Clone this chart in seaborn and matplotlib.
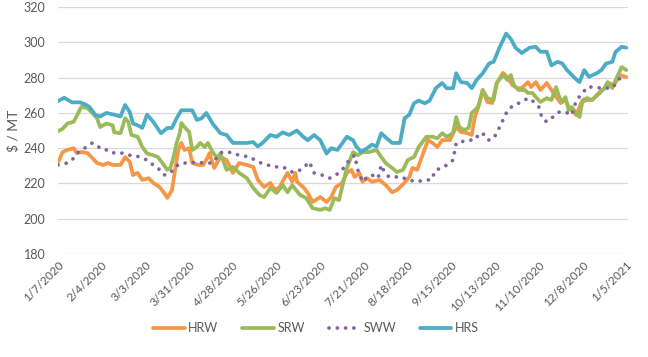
import matplotlib
matplotlib.use("Agg")
import matplotlib.pyplot as plt
import seaborn as sns
import pandas as pd
from matplotlib.lines import Line2D

start_date = "2020-01-07"
series_names = ["HRW", "SRW", "SWW", "HRS"]

# day offsets from start_date and values ($/MT)
hrw_day = [0, 3, 6, 10, 12, 15, 19, 22, 25, 29, 32, 35, 40, 43, 46, 48, 51, 54, 58, 61, 65, 68, 70, 73, 75, 77, 79, 81, 84, 86, 90,
           93, 96, 97, 100, 104, 108, 112, 116, 121, 125, 128, 132, 136, 139, 142, 145, 147, 150, 152, 153, 157, 160, 163, 168, 172,
           175, 178, 182, 185, 188, 190, 193, 195, 198, 201, 206, 210, 214, 217, 221, 225, 227, 230, 233, 237, 240, 243, 246, 251,
           255, 258, 262, 265, 267, 270, 272, 275, 278, 281, 285, 288, 291, 294, 297, 301, 303, 306, 309, 313, 316, 319, 322, 325,
           327, 329, 332, 335, 338, 342, 347, 350, 353, 356, 360, 364]
hrw_val = [232, 237.8, 239, 240, 237.2, 237.8, 237.2, 234.4, 231.6, 230.5, 231.6, 230.5, 230.5, 235, 232.2, 224.8, 226, 222, 223,
           220.3, 218, 214.6, 211.8, 216.3, 227.7, 239, 243, 239, 240, 231.6, 230.5,
           230.5, 235, 237.2, 228.8, 235, 233.3, 226, 231.6, 230.5, 229.4, 222, 218, 220.3, 216.3, 218, 223, 226, 221, 226, 221,
           218, 214.6, 209.5, 212.3, 209.5, 212.3, 218, 220.3, 226, 227.7, 223.7, 226, 221, 223, 221, 222, 219, 215, 216.3, 219.5,
           223.7, 228.8, 227.7, 235, 244.6, 242.9, 240.7, 244.6, 244.6, 252, 249.2, 248.6, 247.5, 257.7, 265.6, 273, 266.2, 265.6,
           277, 282.7, 280.3, 275.8, 274.1, 274.1, 277.5, 274.7, 277.5, 273, 277, 273, 269, 265.6, 267.3, 263.3, 261.6, 258.8,
           265.6, 267.3, 267.3, 271.9, 274, 277, 275.8, 281.5, 280.3]

srw_day = [0, 3, 6, 10, 13, 15, 19, 22, 25, 27, 31, 35, 36, 40, 43, 45, 47, 51, 54, 57, 61, 64, 67, 70, 72, 74, 76, 78, 79, 81, 84,
           86, 89, 91, 94, 96, 99, 102, 104, 108, 112, 116, 121, 125, 129, 132, 136, 140, 144, 147, 150, 155, 159, 163, 168, 171,
           174, 177, 180, 182, 185, 189, 192, 195, 199, 204, 207, 210, 214, 217, 221, 224, 228, 231, 236, 240, 243, 246, 249, 253,
           255, 257, 260, 263, 265, 269, 272, 275, 279, 281, 285, 288, 290, 292, 295, 299, 301, 304, 306, 309, 313, 316, 319, 321,
           323, 325, 327, 329, 332, 334, 336, 339, 342, 347, 350, 352, 355, 358, 361, 364]
srw_val = [249.7, 251, 254, 255, 260, 263.5, 262.7, 260, 257, 252, 254, 253, 249, 248.5, 257, 255, 247.5, 246.5, 240.7, 237, 236,
           235, 231.5, 227.7, 228.8, 235, 243, 248.5, 254.3, 252, 249.2, 239, 240.7, 243, 240.7, 243, 237.8, 234.5, 237, 227.7,
           229.4, 226, 223, 217.5, 213.5, 212.3, 217.5, 214.6, 219, 215, 219, 213.5, 211.7, 206, 205, 206, 205, 211.7, 210.6, 218,
           228.8, 237.8, 236, 237.8, 237.8, 239, 235, 231.5, 228.8, 226.5, 227.7, 233.3, 235, 240.7, 246.5, 246.5, 245.6, 248.5,
           246.5, 248.5, 257.6, 252, 250.3, 251.4, 260, 263.3, 273, 268.4, 267.3, 277, 281.5, 278.6, 281.5, 275.8, 273, 273, 271.3,
           271.3, 269, 266.2, 268.4, 267.3, 274.7, 269, 266.2, 269, 261.6, 263.3, 260, 257.7, 267.3, 268.4, 267.3, 271.3, 274.1,
           277.5, 274.1, 280.3, 286, 284.3]

sww_day = [0, 6, 9, 13, 17, 22, 26, 29, 33, 36, 41, 45, 49, 54, 57, 61, 64, 68, 72, 75, 79, 84, 89, 93, 97, 99, 102, 105, 109,
           112, 116, 123, 128, 134, 139, 144, 150, 153, 157, 161, 164, 169, 174, 178, 182, 185, 188, 190, 192, 195, 198, 201, 205,
           207, 209, 212, 217, 220, 224, 230, 235, 239, 242, 246, 251, 253, 255, 258, 262, 267, 270, 274, 276, 279, 281, 285, 288,
           292, 297, 301, 305, 308, 310, 313, 317, 321, 325, 329, 332, 335, 339, 343, 348, 351, 355, 360, 364]
sww_val = [230.5, 231.6, 233.3, 237.8, 240, 243, 240.7, 239, 239, 237.2, 237.2, 236, 236, 234.4, 233.3, 230.5, 228.8, 224.8, 226,
           229.4, 231.6, 231.6, 232.2, 231.6, 231.6, 231.6, 235, 237.8, 237.8, 237.2, 236, 235, 232.2, 230.5, 229.4, 229.4, 226.5,
           226.5, 228.8, 232.2, 226, 224.8, 223, 224.8, 227.7, 231.6, 234.4, 236, 227.7, 221, 223.7, 224.8, 223, 230.5, 226.5,
           223.7, 223.7, 223.7, 222, 221, 222, 222, 227.7, 228.8, 231.6, 233.3, 242.9, 243.5, 244.6, 244.6, 248.6, 247.5, 244.6,
           245.7, 248.6, 256, 261.6, 264.5, 266.2, 268.4, 266.2, 263.3, 257, 255, 257.7, 260.5, 260.5, 258.8, 267.3, 270.2, 274.7,
           274.7, 274.1, 274.1, 274.1, 279.8, 279.8]

hrs_day = [0, 4, 9, 14, 17, 20, 24, 27, 31, 36, 40, 43, 46, 48, 51, 54, 57, 61, 64, 66, 70, 73, 76, 79, 82, 86, 89, 92, 95, 99,
           104, 108, 112, 116, 121, 125, 128, 131, 136, 140, 144, 148, 153, 157, 160, 164, 168, 172, 175, 179, 185, 189, 191, 194,
           198, 201, 204, 207, 210, 214, 219, 222, 225, 228, 231, 235, 238, 242, 246, 249, 253, 255, 258, 262, 265, 268, 272, 276,
           279, 283, 287, 290, 293, 297, 302, 306, 309, 313, 316, 320, 323, 326, 331, 334, 337, 340, 345, 348, 351, 355, 357, 361, 364]
hrs_val = [266.7, 268.6, 266, 266, 265, 263.5, 258.8, 258, 260, 259, 258, 264.5, 260.5, 254, 253, 251.5, 259, 255, 251, 248.5,
           251.5, 251.5, 257, 261.5, 261.5, 261.5, 256, 257, 260, 254, 248.5, 247.5, 243, 243, 243, 243.5, 241, 243, 247.5, 246.5,
           249, 247.5, 250, 246.5, 244.5, 247.5, 244.5, 237, 240, 239, 246.5, 244.5, 241, 238, 240, 242, 241, 248.5, 246, 243, 243,
           257, 259, 265.5, 267, 265.5, 267, 274, 277, 274, 274, 282.5, 277.5, 277, 274, 278.6, 282.5, 288, 289, 297.5, 305, 302,
           297, 294, 297, 297.5, 294.7, 294.7, 287, 289, 288, 284.3, 279.8, 277.5, 284.3, 280.5, 282.5, 284.3, 288, 289, 294.5,
           297.5, 297]

y_ticks = [180, 200, 220, 240, 260, 280, 300, 320]
x_tick_dates = ["2020-01-07", "2020-02-04", "2020-03-03", "2020-03-31", "2020-04-28", "2020-05-26", "2020-06-23",
                "2020-07-21", "2020-08-18", "2020-09-15", "2020-10-13", "2020-11-10", "2020-12-08", "2021-01-05"]

colors = {"HRW": "#F79646", "SRW": "#9BBB59", "SWW": "#8064A2", "HRS": "#4BACC6"}
dot_pattern = (0.01, 2.2)

base = pd.Timestamp(start_date)
frames = []
for name, days, vals in [("HRW", hrw_day, hrw_val), ("SRW", srw_day, srw_val),
                         ("SWW", sww_day, sww_val), ("HRS", hrs_day, hrs_val)]:
    frames.append(pd.DataFrame({"date": base + pd.to_timedelta(days, unit="D"),
                                "value": vals, "series": name}))
df = pd.concat(frames, ignore_index=True)

sns.set_theme(style="white")
plt.rcParams["font.family"] = ["Lato", "DejaVu Sans"]

fig = plt.figure(figsize=(6.48, 3.57), dpi=100)
ax = fig.add_axes([0.0895, 0.2885, 0.8795, 0.6915])

sns.lineplot(data=df, x="date", y="value", hue="series", style="series",
             hue_order=series_names, style_order=series_names,
             palette=colors,
             dashes={"HRW": "", "SRW": "", "SWW": dot_pattern, "HRS": ""},
             linewidth=2.7, ax=ax, legend=False, estimator=None, sort=True)
for ln in ax.lines:
    ln.set_dash_capstyle("round")
    ln.set_solid_capstyle("round")

ax.set_ylim(180, 320)
ax.set_yticks(y_ticks)
ax.set_xlim(base, pd.Timestamp("2021-01-06"))
ticks = pd.to_datetime(x_tick_dates)
ax.set_xticks(ticks)
ax.set_xticklabels([f"{d.month}/{d.day}/{d.year}" for d in ticks], rotation=45,
                   ha="right", rotation_mode="anchor")
ax.grid(axis="y", color="#D9D9D9", linewidth=0.9)
ax.set_axisbelow(True)
for s in ax.spines.values():
    s.set_visible(False)
ax.tick_params(axis="both", length=0, colors="#595959")
ax.tick_params(axis="x", pad=4, labelsize=8.5)
ax.tick_params(axis="y", pad=9, labelsize=9)
ax.set_xlabel("")
ax.set_ylabel("$ / MT", fontsize=10, color="#595959", labelpad=3)

handles = []
for n in series_names:
    if n == "SWW":
        h = Line2D([], [], color=colors[n], linewidth=2.7, linestyle=(0, dot_pattern),
                   dash_capstyle="round")
    else:
        h = Line2D([], [], color=colors[n], linewidth=2.7, solid_capstyle="round")
    handles.append(h)
fig.legend(handles, series_names, loc="center", bbox_to_anchor=(0.488, 0.08), ncol=4,
           frameon=False, fontsize=9, handlelength=2.5, columnspacing=1.9, handletextpad=0.3,
           labelcolor="#595959")

fig.savefig("out.png", dpi=100)
